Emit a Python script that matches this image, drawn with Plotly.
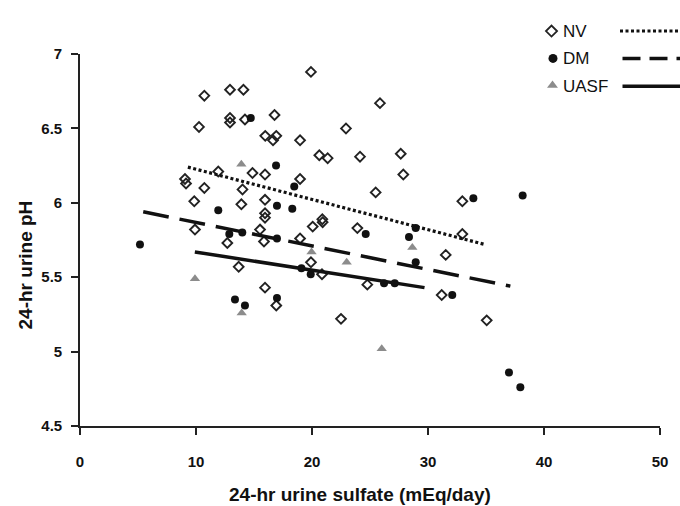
import plotly.graph_objects as go

# ---- data ----
NV_x = [10.72, 12.93, 14.09, 12.93, 12.93, 14.22, 16.77, 10.26, 15.97, 16.64, 16.92, 11.92, 14.87, 15.95,
        9.05, 9.14, 10.72, 14.01, 9.85, 13.91, 15.95, 19.91, 22.93, 18.97, 20.63, 21.35, 24.14, 25.86,
        18.97, 25.49, 15.95, 15.95, 9.91, 15.52, 12.70, 15.86, 13.68, 15.95, 16.92, 20.89, 20.92, 20.06,
        23.91, 18.97, 19.91, 20.86, 24.77, 22.50, 27.65, 27.87, 32.96, 32.96, 31.53, 31.18, 35.06]
NV_y = [6.72, 6.76, 6.76, 6.57, 6.54, 6.56, 6.59, 6.51, 6.45, 6.42, 6.45, 6.21, 6.20, 6.19,
        6.16, 6.13, 6.10, 6.09, 6.01, 5.99, 6.02, 6.88, 6.50, 6.42, 6.32, 6.30, 6.31, 6.67,
        6.16, 6.07, 5.93, 5.90, 5.82, 5.82, 5.73, 5.74, 5.57, 5.43, 5.31, 5.89, 5.87, 5.84,
        5.83, 5.76, 5.60, 5.52, 5.45, 5.22, 6.33, 6.19, 6.01, 5.79, 5.65, 5.38, 5.21]

DM_x = [14.72, 16.90, 16.98, 18.47, 11.92, 5.17, 12.87, 13.99, 16.98, 18.30, 24.63, 28.94, 28.36,
        28.94, 19.09, 19.89, 26.21, 27.13, 13.36, 14.22, 16.98, 33.91, 38.16, 32.09, 36.98, 37.96]
DM_y = [6.57, 6.25, 5.98, 6.11, 5.95, 5.72, 5.79, 5.80, 5.76, 5.96, 5.79, 5.83, 5.77,
        5.60, 5.56, 5.52, 5.46, 5.46, 5.35, 5.31, 5.36, 6.03, 6.05, 5.38, 4.86, 4.76]

UASF_x = [13.91, 9.91, 13.94, 19.96, 22.99, 28.65, 26.01]
UASF_y = [6.26, 5.49, 5.26, 5.67, 5.60, 5.70, 5.02]

NV_fit_x, NV_fit_y = [9.3, 34.9], [6.24, 5.72]
DM_fit_x, DM_fit_y = [5.45, 37.1], [5.94, 5.44]
UASF_fit_x, UASF_fit_y = [9.9, 29.7], [5.67, 5.43]

x_ticks = [0, 10, 20, 30, 40, 50]
y_ticks = [4.5, 5, 5.5, 6, 6.5, 7]
y_tick_labels = ["4.5", "5", "5.5", "6", "6.5", "7"]

series_names = ["NV", "DM", "UASF"]

FONT = "Liberation Sans, Arial, sans-serif"
W, H = 680, 506
ML, MR, MT, MB = 80, 20, 0, 80
PLOT_TOP = 46  # px from top of figure for y=7

fig = go.Figure()

fig.add_trace(go.Scatter(x=NV_x, y=NV_y, mode="markers", name="NV",
                         marker=dict(symbol="diamond-open", size=7.5, color="#222222",
                                     line=dict(width=1.9, color="#222222"))))
fig.add_trace(go.Scatter(x=DM_x, y=DM_y, mode="markers", name="DM",
                         marker=dict(symbol="circle", size=8, color="#111111")))
fig.add_trace(go.Scatter(x=UASF_x, y=UASF_y, mode="markers", name="UASF",
                         marker=dict(symbol="triangle-up", size=9, color="#8c8c8c")))

fig.add_trace(go.Scatter(x=NV_fit_x, y=NV_fit_y, mode="lines", showlegend=False,
                         line=dict(color="#111111", width=3.2, dash="3px,2.5px")))
fig.add_trace(go.Scatter(x=DM_fit_x, y=DM_fit_y, mode="lines", showlegend=False,
                         line=dict(color="#111111", width=3.5, dash="26px,11px")))
fig.add_trace(go.Scatter(x=UASF_fit_x, y=UASF_fit_y, mode="lines", showlegend=False,
                         line=dict(color="#111111", width=3.5)))

# ---- custom legend (pixel-based overlay axes) ----
leg_y = [22.5, 50.5, 79]
leg_marker_x = [551.5, 553, 552.5]
fig.add_trace(go.Scatter(x=[leg_marker_x[0]], y=[leg_y[0]], xaxis="x2", yaxis="y2", mode="markers",
                         showlegend=False, cliponaxis=False, hoverinfo="skip",
                         marker=dict(symbol="diamond-open", size=8.5, color="#222222",
                                     line=dict(width=1.8, color="#222222"))))
fig.add_trace(go.Scatter(x=[leg_marker_x[1]], y=[leg_y[1]], xaxis="x2", yaxis="y2", mode="markers",
                         showlegend=False, cliponaxis=False, hoverinfo="skip",
                         marker=dict(symbol="circle", size=9, color="#111111")))
fig.add_trace(go.Scatter(x=[leg_marker_x[2]], y=[leg_y[2] - 1], xaxis="x2", yaxis="y2", mode="markers",
                         showlegend=False, cliponaxis=False, hoverinfo="skip",
                         marker=dict(symbol="triangle-up", size=9.5, color="#8c8c8c")))

pw = W - ML - MR
ph = H - MT - MB


def px_to_paper_x(px):
    return (px - ML) / pw


def px_to_paper_y(py):
    return 1 - (py - MT) / ph


annotations = []
for name, yy in zip(series_names, leg_y):
    annotations.append(dict(x=px_to_paper_x(561), y=px_to_paper_y(yy), xref="paper", yref="paper",
                            text=name, showarrow=False, xanchor="left", yanchor="middle",
                            font=dict(family=FONT, size=17, color="#111111")))

shapes = []
dashes = ["dot", "dash", "solid"]
line_starts = [620, 622.5, 622.5]
for yy, ds, x0 in zip(leg_y, dashes, line_starts):
    shapes.append(dict(type="line", xref="paper", yref="paper",
                       x0=px_to_paper_x(x0), x1=px_to_paper_x(682),
                       y0=px_to_paper_y(yy), y1=px_to_paper_y(yy),
                       line=dict(color="#111111", width=3.2 if ds == "dot" else 3.5,
                                 dash={"dot": "3px,2.5px", "dash": "18px,9px", "solid": "solid"}[ds])))

# axis titles
annotations.append(dict(x=px_to_paper_x(360), y=px_to_paper_y(496), xref="paper", yref="paper",
                        text="24-hr urine sulfate (mEq/day)", showarrow=False,
                        xanchor="center", yanchor="middle",
                        font=dict(family=FONT, size=19, color="#111111", weight="bold")))
annotations.append(dict(x=px_to_paper_x(25), y=px_to_paper_y(262), xref="paper", yref="paper",
                        text="24-hr urine pH", showarrow=False, textangle=-90,
                        xanchor="center", yanchor="middle",
                        font=dict(family=FONT, size=19, color="#111111", weight="bold")))

fig.update_layout(
    width=W, height=H,
    margin=dict(l=ML, r=MR, t=MT, b=MB),
    paper_bgcolor="white",
    plot_bgcolor="rgba(0,0,0,0)",
    showlegend=False,
    annotations=annotations,
    shapes=shapes,
    xaxis=dict(domain=[0, 1], range=[0, 50], tickvals=x_ticks, ticktext=[str(v) for v in x_ticks],
               showgrid=False, zeroline=False, showline=True, linecolor="#222222", linewidth=1.6,
               ticks="outside", ticklen=7, tickwidth=1.6, tickcolor="#222222",
               ticklabelstandoff=14,
               tickfont=dict(family=FONT, size=15, color="#111111", weight="bold"),
               anchor="y", fixedrange=True),
    yaxis=dict(domain=[0, (H - MB - PLOT_TOP) / ph], range=[4.5, 7], tickvals=y_ticks,
               ticktext=y_tick_labels,
               showgrid=False, zeroline=False, showline=True, linecolor="#222222", linewidth=1.6,
               ticks="outside", ticklen=7, tickwidth=1.6, tickcolor="#222222",
               ticklabelstandoff=6,
               tickfont=dict(family=FONT, size=15, color="#111111", weight="bold"),
               anchor="x", fixedrange=True),
    xaxis2=dict(domain=[0, 1], range=[ML, W - MR], visible=False, anchor="y2", fixedrange=True),
    yaxis2=dict(domain=[0, 1], range=[H - MB, MT], visible=False, anchor="x2", fixedrange=True),
)

fig.write_html("out.html")
